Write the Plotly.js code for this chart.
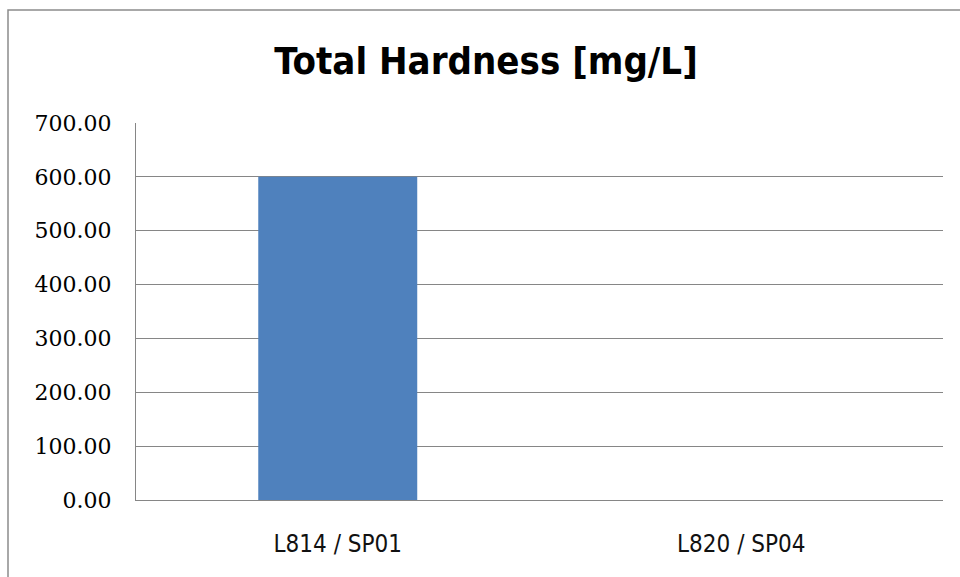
<!DOCTYPE html>
<html>
<head>
<meta charset="utf-8">
<script src="https://cdn.plot.ly/plotly-3.0.1.min.js"></script>
<style>html,body{margin:0;padding:0;background:#fff;}#chart{width:960px;height:577px;}</style>
</head>
<body>
<div id="chart"></div>
<script>
const categories = ["L814 / SP01", "L820 / SP04"];
const hardness = [600, 0];
const yTickValues = [0, 100, 200, 300, 400, 500, 600, 700];
const yTickLabels = ["0.00", "100.00", "200.00", "300.00", "400.00", "500.00", "600.00", "700.00"];
const chartTitle = "Total Hardness [mg/L]";

const W = 960, H = 577;
const L = 136, R = 17, T = 123, B = 77;
const pw = W - L - R, ph = H - T - B;
function px(x){ return (x - L) / pw; }
function py(y){ return (H - B - y) / ph; }

const trace = {
  type: 'bar',
  x: categories,
  y: hardness,
  marker: {color: '#4F81BD', line: {width: 0}},
  hoverinfo: 'x+y'
};

const layout = {
  width: W, height: H,
  margin: {l: L, r: R, t: T, b: B, pad: 0},
  paper_bgcolor: '#ffffff',
  plot_bgcolor: '#ffffff',
  showlegend: false,
  bargap: 0.606,
  title: {
    text: chartTitle,
    font: {family: 'DejaVu Sans Condensed, Noto Sans', size: 38, color: '#000', weight: 'bold'},
    xref: 'paper', x: px(486), xanchor: 'center',
    yref: 'container', y: 1 - 61 / H, yanchor: 'middle'
  },
  xaxis: {
    type: 'category',
    showline: true, linecolor: '#868686', linewidth: 1,
    showgrid: false, zeroline: false,
    ticks: '',
    ticklabelstandoff: 22,
    tickfont: {family: 'DejaVu Sans Condensed, Noto Sans', size: 24, color: '#111'}
  },
  yaxis: {
    range: [0, 700],
    tickvals: yTickValues,
    ticktext: yTickLabels,
    showline: true, linecolor: '#868686', linewidth: 1,
    showgrid: true, gridcolor: '#868686', gridwidth: 1,
    zeroline: false,
    ticks: '',
    ticklabelstandoff: 19,
    tickfont: {family: 'DejaVu Serif', size: 22, color: '#000'}
  },
  shapes: [{
    type: 'rect', xref: 'paper', yref: 'paper',
    x0: px(8), x1: px(975), y0: py(600), y1: py(10),
    line: {color: '#8c8c8c', width: 1.5}, fillcolor: 'rgba(0,0,0,0)', layer: 'above'
  }]
};

Plotly.newPlot('chart', [trace], layout, {displayModeBar: false, staticPlot: true});
</script>
</body>
</html>
